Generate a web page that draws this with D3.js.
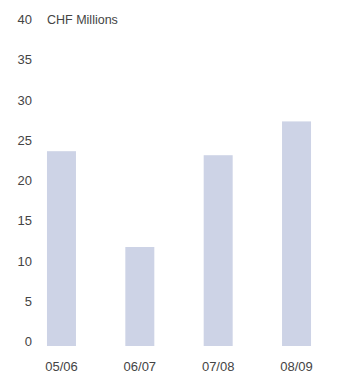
<!DOCTYPE html>
<html>
<head>
<meta charset="utf-8">
<script src="https://cdn.jsdelivr.net/npm/d3@7"></script>
<style>
  body { margin: 0; background: #fff; }
  text { font-family: "Liberation Sans", Arial, sans-serif; }
</style>
</head>
<body>
<svg id="chart" width="353" height="372"></svg>
<script>
// data
const years = ['05/06', '06/07', '07/08', '08/09'];
const values = [24.2, 12.3, 23.7, 27.9];
const yTicks = [0, 5, 10, 15, 20, 25, 30, 35, 40];
const unitLabel = 'CHF Millions';

const svg = d3.select('#chart');

const x = d3.scaleBand()
    .domain(years)
    .range([22.3, 335.7])
    .paddingInner(0.63)
    .paddingOuter(0.315);

const y = d3.scaleLinear()
    .domain([0, 40])
    .range([346, 24]);

// bars
svg.append('g')
  .selectAll('rect')
  .data(values)
  .enter().append('rect')
    .attr('x', function(d, i) { return x(years[i]); })
    .attr('y', function(d) { return y(d); })
    .attr('width', x.bandwidth())
    .attr('height', function(d) { return y(0) - y(d); })
    .attr('fill', '#cdd3e6');

// y axis labels, no line
const yAxis = svg.append('g')
    .attr('transform', 'translate(32,0)')
    .call(d3.axisLeft(y).tickValues(yTicks).tickSize(0).tickPadding(0));
yAxis.select('.domain').remove();
yAxis.selectAll('text')
    .attr('dy', '0')
    .attr('y', -0.5)
    .attr('font-size', '13px')
    .attr('font-family', '"Liberation Sans", Arial, sans-serif')
    .attr('fill', '#444');

// x axis labels
const xAxis = svg.append('g')
    .attr('transform', 'translate(0,361)')
    .call(d3.axisBottom(x).tickSize(0).tickPadding(0));
xAxis.select('.domain').remove();
xAxis.selectAll('text')
    .attr('dy', '0')
    .attr('y', 9.5)
    .attr('font-size', '13px')
    .attr('font-family', '"Liberation Sans", Arial, sans-serif')
    .attr('fill', '#444');

svg.append('text')
    .attr('x', 47)
    .attr('y', y(40) - 0.5)
    .attr('font-size', '12.5px')
    .attr('fill', '#444')
    .text(unitLabel);
</script>
</body>
</html>
